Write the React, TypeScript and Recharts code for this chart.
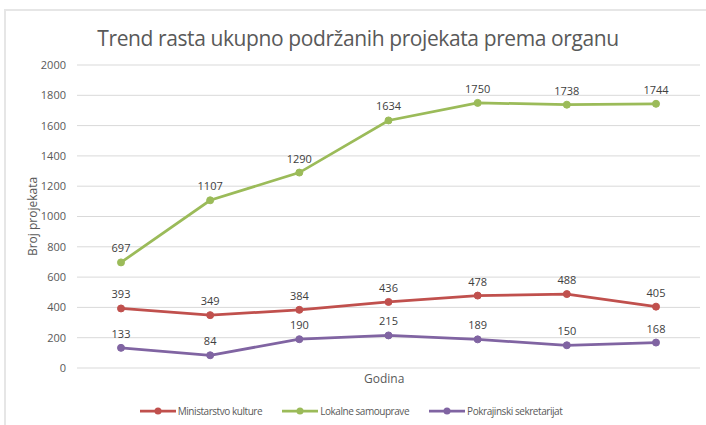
import { LineChart, Line, XAxis, YAxis, CartesianGrid, LabelList, Label } from 'recharts'

const godine = ['1', '2', '3', '4', '5', '6', '7']
const ministarstvo = [393, 349, 384, 436, 478, 488, 405]
const lokalne = [697, 1107, 1290, 1634, 1750, 1738, 1744]
const pokrajinski = [133, 84, 190, 215, 189, 150, 168]
const yTicks = [0, 200, 400, 600, 800, 1000, 1200, 1400, 1600, 1800, 2000]

const serije = [
  { key: 'ministarstvo', name: 'Ministarstvo kulture', color: '#c0504d' },
  { key: 'lokalne', name: 'Lokalne samouprave', color: '#9bbb59' },
  { key: 'pokrajinski', name: 'Pokrajinski sekretarijat', color: '#8064a2' }
]

const data = godine.map((g, i) => ({
  godina: g,
  ministarstvo: ministarstvo[i],
  lokalne: lokalne[i],
  pokrajinski: pokrajinski[i]
}))

const font = '"Open Sans", Lato, sans-serif'

export default function App() {
  return (
    <div style={{ position: 'absolute', left: 0, top: 0, width: 706, height: 425, background: '#fff', fontFamily: font }}>
      <div style={{ position: 'absolute', left: 4, top: 9, width: 702, height: 416, borderTop: '2px solid #e6e6e6', borderLeft: '2px solid #e6e6e6' }} />
      <div style={{ position: 'absolute', left: 0, top: 24, width: 716, textAlign: 'center', fontSize: 21, color: '#595959', letterSpacing: -0.4 }}>
        Trend rasta ukupno podržanih projekata prema organu
      </div>
      <div style={{ position: 'absolute', left: 0, top: 0 }}>
        <LineChart width={706} height={425} data={data} margin={{ top: 65, right: 6, bottom: 57, left: 27 }}>
          <CartesianGrid vertical={false} stroke="#d9d9d9" />
          <XAxis dataKey="godina" height={0} tick={false} axisLine={false} tickLine={false} padding={{ left: 44, right: 44 }} />
          <YAxis
            width={50}
            domain={[0, 2000]}
            ticks={yTicks}
            axisLine={false}
            tickLine={false}
            tickMargin={5}
            tick={{ fontSize: 11, fill: '#595959', fontFamily: font }}
          >
            <Label value="Broj projekata" angle={-90} position="insideLeft" offset={6} style={{ fontSize: 12, fill: '#595959', fontFamily: font, textAnchor: 'middle' }} />
          </YAxis>
          {serije.map(s => (
            <Line
              key={s.key}
              dataKey={s.key}
              name={s.name}
              stroke={s.color}
              strokeWidth={2.75}
              dot={{ r: 3.5, fill: s.color, stroke: s.color, strokeWidth: 1 }}
              isAnimationActive={false}
            >
              <LabelList dataKey={s.key} position="top" offset={10} style={{ fontSize: 11, fill: '#404040', fontFamily: font }} />
            </Line>
          ))}
        </LineChart>
      </div>
      <div style={{ position: 'absolute', left: 364, top: 370, fontSize: 12, color: '#595959' }}>Godina</div>
      <div style={{ position: 'absolute', left: 0, top: 404, width: 702, display: 'flex', justifyContent: 'center', gap: 20, fontSize: 10, color: '#595959', letterSpacing: -0.45 }}>
        {serije.map(s => (
          <div key={s.key} style={{ display: 'flex', alignItems: 'center' }}>
            <svg width={36} height={10}>
              <line x1={0} y1={5} x2={36} y2={5} stroke={s.color} strokeWidth={2.75} />
              <circle cx={18} cy={5} r={3.5} fill={s.color} />
            </svg>
            <span style={{ marginLeft: 2 }}>{s.name}</span>
          </div>
        ))}
      </div>
    </div>
  )
}
